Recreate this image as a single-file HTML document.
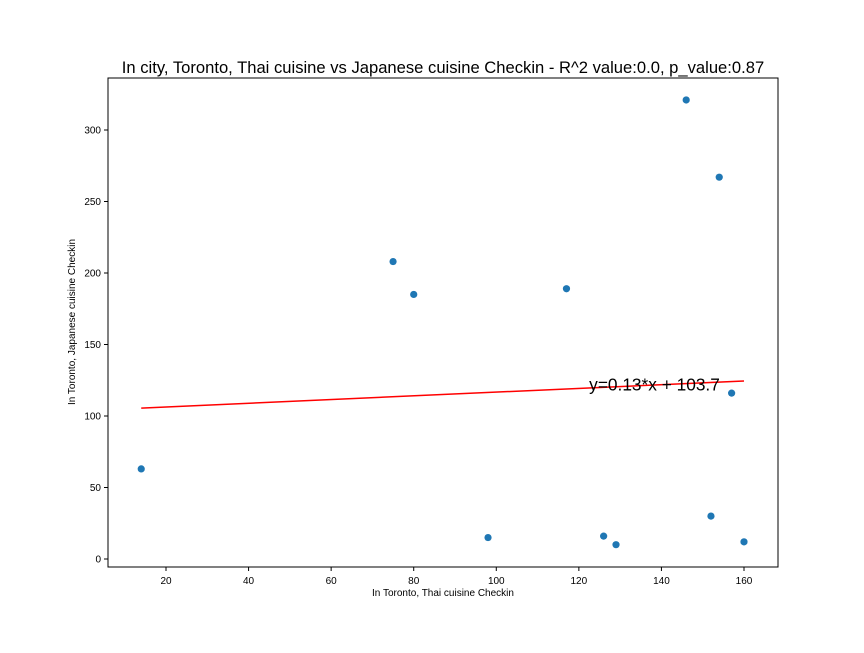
<!DOCTYPE html>
<html><head><meta charset="utf-8"><style>
body{margin:0;background:#fff}
svg{font-family:"Liberation Sans","DejaVu Sans",sans-serif}
</style></head><body>
<svg id="chart" width="864" height="648" xmlns="http://www.w3.org/2000/svg">
<rect width="864" height="648" fill="#fff"/>
<text x="443" y="73" font-size="16.6" text-anchor="middle">In city, Toronto, Thai cuisine vs Japanese cuisine Checkin - R^2 value:0.0, p_value:0.87</text>
<g id="plot"></g>
<rect x="108" y="78" width="670" height="489" fill="none" stroke="#000" stroke-width="1"/>
<text x="443" y="596" font-size="10" text-anchor="middle">In Toronto, Thai cuisine Checkin</text>
<text x="75" y="322" font-size="10" text-anchor="middle" transform="rotate(-90 75 322)">In Toronto, Japanese cuisine Checkin</text>
</svg>
<script>
const thaiCheckins=[14,75,80,98,117,126,129,146,152,154,157,160];
const japaneseCheckins=[63,208,185,15,189,16,10,321,30,267,116,12];
const xTicks=[20,40,60,80,100,120,140,160];
const yTicks=[0,50,100,150,200,250,300];
const slope=0.13, intercept=103.7;
const NS="http://www.w3.org/2000/svg";
const sx=v=>166+(v-20)*(578/140);
const sy=v=>559-v*(429/300);
const g=document.getElementById('plot');
function mk(t,a){const e=document.createElementNS(NS,t);for(const k in a)e.setAttribute(k,a[k]);g.appendChild(e);return e;}
xTicks.forEach(t=>{
 const l=mk('line',{x1:sx(t),x2:sx(t),y1:567,y2:571,stroke:'#000'});
 
 
 const tx=mk('text',{x:sx(t),y:584,'font-size':10,'text-anchor':'middle'});tx.textContent=t;
 
 
});
yTicks.forEach(t=>{
 const l=mk('line',{x1:104,x2:108,y1:sy(t),y2:sy(t),stroke:'#000'});
 
 
 const tx=mk('text',{x:101,y:sy(t)+3.5,'font-size':10,'text-anchor':'end'});tx.textContent=t;
 
 
});
const xmin=Math.min(...thaiCheckins), xmax=Math.max(...thaiCheckins);
const rl=mk('line',{x1:sx(xmin),y1:sy(slope*xmin+intercept),x2:sx(xmax),y2:sy(slope*xmax+intercept),stroke:'red','stroke-width':1.5});


thaiCheckins.forEach((x,i)=>{
 const c=mk('circle',{cx:sx(x),cy:sy(japaneseCheckins[i]),r:3.6,fill:'#1f77b4'});
 
 
});
const eq=mk('text',{x:sx(122.5),y:sy(118),'font-size':17.3});
eq.textContent='y=0.13*x + 103.7';


</script>
</body></html>
